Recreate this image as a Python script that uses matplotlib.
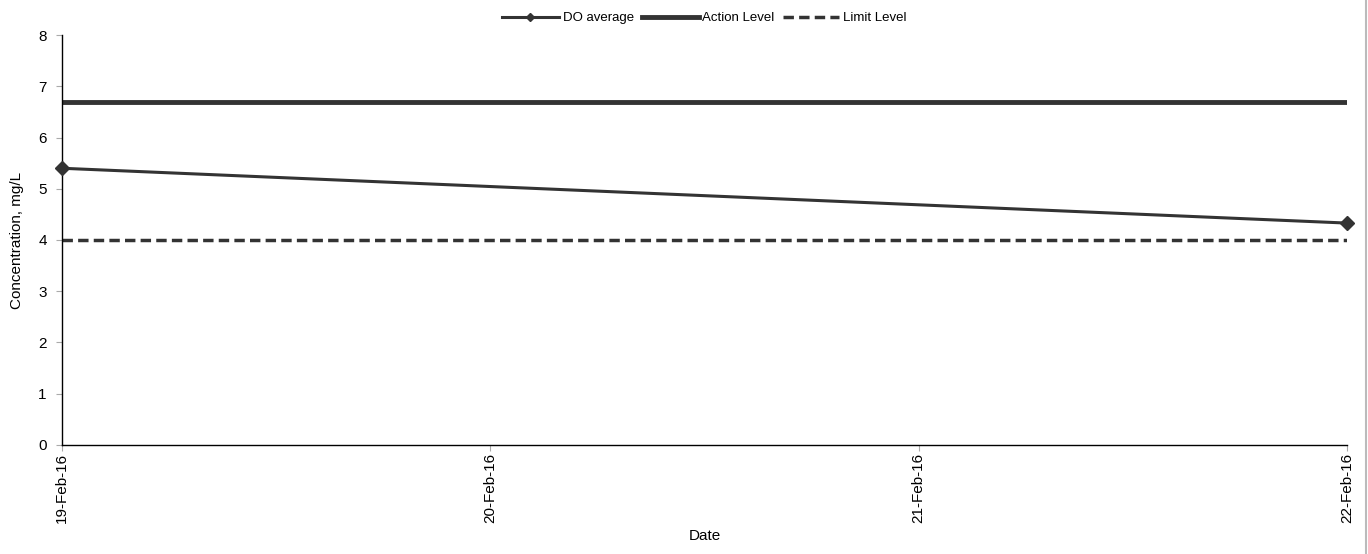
import numpy as np
import matplotlib.pyplot as plt
import matplotlib.dates as mdates
from datetime import datetime

plt.rcParams['font.family'] = ['Liberation Sans', 'DejaVu Sans']

dates = [datetime(2016, 2, 19), datetime(2016, 2, 22)]
do_average = [5.40, 4.33]
action_level = [6.7, 6.7]
limit_level = [4.0, 4.0]
tick_dates = [datetime(2016, 2, d) for d in (19, 20, 21, 22)]

col = '#333333'

fig = plt.figure(figsize=(13.68, 5.54), dpi=100)
ax = fig.add_axes([0.0453, 0.1968, 0.9393, 0.7400])

ax.plot(dates, do_average, color=col, lw=2.2, marker='D', ms=7, label='DO average',
        clip_on=False, zorder=5)
ax.plot(dates, action_level, color=col, lw=3.5, label='Action Level')
ax.plot(dates, limit_level, color=col, lw=2.5, ls=(0, (3, 1.5)), label='Limit Level')

ax.set_xlim(dates[0], dates[-1])
ax.set_ylim(0, 8)
ax.set_yticks(range(0, 9))
ax.set_xticks(tick_dates)
ax.xaxis.set_major_formatter(mdates.DateFormatter('%d-%b-%y'))
plt.setp(ax.get_xticklabels(), rotation=90)

for s in ('top', 'right'):
    ax.spines[s].set_visible(False)
for s in ('left', 'bottom'):
    ax.spines[s].set_color('black')
    ax.spines[s].set_linewidth(1)
ax.tick_params(axis='both', direction='out', length=4, color='#aaaaaa', labelsize=11)
ax.tick_params(axis='y', pad=7)
ax.tick_params(axis='x', pad=2)

ax.set_xlabel('Date', fontsize=11)
ax.set_ylabel('Concentration, mg/L', fontsize=11, labelpad=10)

ax.legend(loc='upper center', bbox_to_anchor=(0.5, 1.085), ncol=3, frameon=False,
          fontsize=9.5, handlelength=4.3, columnspacing=0.6, handletextpad=0.3,
          markerscale=0.6)

fig.add_artist(plt.Line2D([0.9985, 0.9985], [0, 1], color='#bbbbbb', lw=1.5,
                          transform=fig.transFigure))

fig.savefig('out.png', dpi=100)
